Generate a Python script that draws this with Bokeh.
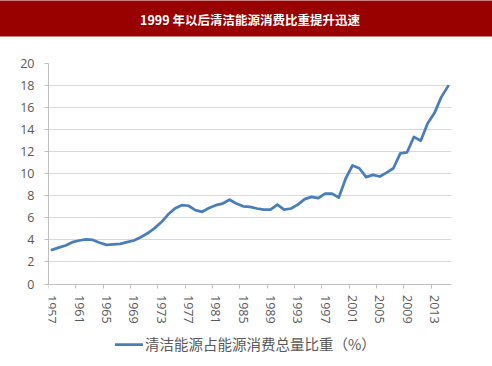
from bokeh.plotting import figure
from bokeh.models import (FixedTicker, Title, Legend, LegendItem,
                          ColumnDataSource, Range1d)
from bokeh.embed import file_html
from bokeh.resources import INLINE

# ---- data ----
years = list(range(1957, 2016))
share = [3.1, 3.3, 3.5, 3.8, 3.95, 4.05, 4.0, 3.75, 3.55, 3.6,
         3.65, 3.8, 3.95, 4.25, 4.6, 5.05, 5.6, 6.3, 6.85, 7.15,
         7.1, 6.7, 6.55, 6.9, 7.15, 7.3, 7.65, 7.3, 7.05, 7.0,
         6.85, 6.75, 6.75, 7.2, 6.75, 6.85, 7.2, 7.7, 7.9, 7.8,
         8.2, 8.2, 7.85, 9.55, 10.75, 10.5, 9.7, 9.9, 9.75, 10.1,
         10.5, 11.85, 11.95, 13.35, 13.0, 14.55, 15.5, 16.95, 17.95]
tick_years = list(range(1957, 2014, 4))
y_ticks = list(range(0, 21, 2))
y_max = 20
title_text = "1999 年以后清洁能源消费比重提升迅速"
series_name = "清洁能源占能源消费总量比重（%）"

src = ColumnDataSource(dict(year=years, share=share))

# ---- layout (pixels) ----
W, H = 492, 366
TOP, LEFT, RIGHT = 61, 48, 41
ZERO_Y = 283          # pixel row of value 0
plot_px = ZERO_Y - TOP
below_px = H - ZERO_Y
y_lo = -y_max * below_px / plot_px   # room under the axis for labels + legend

p = figure(width=W, height=H, output_backend="svg", toolbar_location=None,
           x_range=Range1d(years[0] - 0.5, years[-1] + 0.5),
           y_range=Range1d(y_lo, y_max),
           min_border_left=LEFT, min_border_right=RIGHT,
           min_border_top=TOP, min_border_bottom=0)
p.outline_line_color = None
p.background_fill_color = "white"
p.border_fill_color = "white"

r = p.line("year", "share", source=src, line_color="#4A7EBB", line_width=2.75,
           line_join="round", line_cap="round")

label_font = "Open Sans"
axis_gray = "#BFBFBF"
text_gray = "#595959"

xa = p.xaxis[0]
xa.fixed_location = 0
xa.ticker = FixedTicker(ticks=tick_years, minor_ticks=[t - 0.5 for t in tick_years])
xa.major_label_orientation = "vertical"
xa.major_tick_out = 0
xa.major_tick_in = 0
xa.minor_tick_out = 4
xa.minor_tick_in = 0
xa.minor_tick_line_color = axis_gray
xa.axis_line_color = axis_gray
xa.major_label_standoff = 7
xa.major_label_text_font = label_font
xa.major_label_text_font_size = "12.5px"
xa.major_label_text_color = text_gray

ya = p.yaxis[0]
ya.bounds = (0, y_max)
ya.ticker = FixedTicker(ticks=y_ticks)
ya.major_tick_out = 4
ya.major_tick_in = 0
ya.minor_tick_out = 0
ya.minor_tick_in = 0
ya.major_tick_line_color = axis_gray
ya.axis_line_color = axis_gray
ya.major_label_standoff = 10
ya.major_label_text_font = label_font
ya.major_label_text_font_size = "12.5px"
ya.major_label_text_color = text_gray

p.xgrid.visible = False
p.ygrid.grid_line_color = "#D9D9D9"
p.ygrid.grid_line_width = 1.2

# empty spacer panel between the title bar and the plot area
spacer = Title(text=" ", text_font="Noto Sans CJK SC", text_font_size="12.5px",
               text_color="white", standoff=4)
p.add_layout(spacer, "above")

# padding order here is (left, right, top, bottom)
p.title = Title(text=title_text, align="center", vertical_align="top",
                standoff=0, text_color="white",
                text_font="Noto Sans CJK SC", text_font_style="bold",
                text_font_size="12.5px", background_fill_color="#990000",
                background_fill_alpha=1.0, padding=(260, 260, 9, 8))

legend = Legend(items=[LegendItem(label=series_name, renderers=[r])],
                location=(67, 12), orientation="horizontal",
                glyph_width=28, glyph_height=16, label_standoff=2,
                padding=0, margin=0, border_line_color=None,
                background_fill_alpha=0,
                label_text_font="Noto Sans CJK SC",
                label_text_font_size="14.5px", label_text_color=text_gray)
p.add_layout(legend)

open("out.html", "w").write(file_html(p, INLINE))
